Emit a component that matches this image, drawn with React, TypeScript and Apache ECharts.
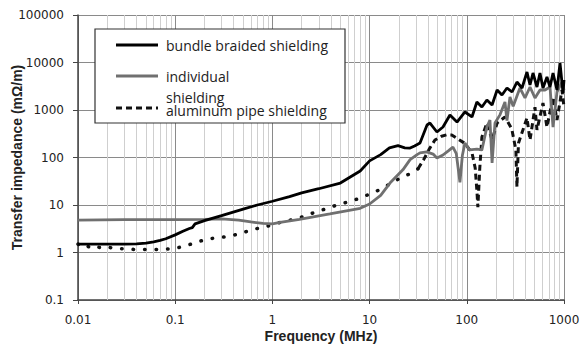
import React, { useEffect, useRef } from "react";
import * as echarts from "echarts";

// ---- data (frequency in MHz, transfer impedance in mΩ/m) ----
const xTickLabels = ["0.01", "0.1", "1", "10", "100", "1000"];
const yTickLabels = ["0.1", "1", "10", "100", "1000", "10000", "100000"];
const minorDecades = [0.01, 0.1, 1, 10, 100];
const minorMultipliers = [2, 3, 4, 5, 6, 7, 8, 9];

const bundleFreq = [0.01, 0.02, 0.03, 0.04, 0.05, 0.06, 0.07, 0.08, 0.1, 0.12, 0.14, 0.15, 0.16, 0.2, 0.3, 0.5, 0.7, 1, 1.5, 2, 3, 5, 8, 10, 13, 16, 19.6, 23, 26.1, 29, 33, 39, 41.8, 49.3, 56.9, 67.1, 79.3, 95.7, 113, 127, 143, 161, 182, 205, 230, 259, 292, 328, 370, 416, 447, 480, 527, 566, 608, 668, 718, 771, 847, 910, 977, 1000];
const bundleVal = [1.5, 1.5, 1.5, 1.52, 1.58, 1.68, 1.8, 1.95, 2.35, 2.8, 3.2, 3.35, 4.0, 4.7, 6.0, 8.2, 10, 12, 15, 18, 22, 29, 52, 85, 115, 160, 178, 160, 158, 175, 202, 483, 532, 344, 438, 785, 558, 908, 713, 1472, 1156, 1625, 1274, 2636, 2070, 2904, 2393, 3880, 2904, 6310, 3357, 6010, 3048, 6010, 2904, 4955, 3048, 6010, 2636, 9750, 2280, 4285];

const indivFreq = [0.01, 0.03, 0.1, 0.2, 0.3, 0.45, 0.6, 0.8, 1, 1.2, 1.9, 3.9, 8, 10, 13, 16.2, 22, 26.1, 30.8, 33, 38.7, 45, 49.3, 56.9, 65, 72, 78, 85, 90, 95.7, 107, 127, 143, 161, 173, 182, 195, 220, 247, 259, 278, 300, 352, 397, 447, 503, 566, 638, 718, 771, 847, 953, 1000];
const indivVal = [4.8, 4.9, 4.9, 5.0, 5.1, 4.8, 4.4, 4.1, 4.0, 4.3, 5.0, 6.5, 8.5, 10.5, 16, 29, 55, 90, 115, 125, 131, 118, 98, 113, 140, 166, 120, 30, 110, 202, 144, 150, 144, 438, 615, 77, 532, 800, 1472, 600, 1880, 1200, 2904, 1790, 3048, 1790, 2636, 2636, 3048, 438, 2393, 3880, 2636];

const aluLowFreq = [0.01, 0.011, 0.012, 0.013, 0.015, 0.017, 0.02, 0.025, 0.03, 0.04, 0.05, 0.06, 0.07, 0.08, 0.1, 0.13, 0.16, 0.21, 0.275, 0.366, 0.49, 0.65, 0.86, 1.1, 1.52, 2.02, 2.62, 3.48, 4.62, 6, 8, 11.9, 17, 21.5, 26, 31.5];
const aluLowVal = [1.5, 1.35, 1.45, 1.3, 1.4, 1.25, 1.3, 1.2, 1.2, 1.15, 1.15, 1.15, 1.17, 1.18, 1.22, 1.4, 1.6, 1.92, 2.04, 2.2, 2.6, 3.1, 3.5, 4.1, 4.8, 5.6, 6.8, 8.2, 10, 11.6, 14, 19.7, 29, 39, 45, 58];
const aluHighFreq = [31.5, 36, 41, 47, 55, 62, 70, 80, 95, 113, 122, 127, 130, 136, 143, 161, 182, 205, 247, 290, 320, 328, 340, 416, 447, 503, 527, 608, 668, 771, 847, 953, 1000];
const aluHighVal = [58, 90, 150, 233, 280, 300, 298, 250, 200, 126, 60, 20, 9, 60, 270, 532, 233, 532, 713, 400, 144, 24, 200, 680, 233, 1150, 380, 1400, 438, 1880, 615, 2636, 1156];

const zip = (a: number[], b: number[]) => a.map((x, i) => [x, b[i]]);

export default function App() {
  const ref = useRef<HTMLDivElement>(null);
  useEffect(() => {
    if (!ref.current) return;
    const chart = echarts.init(ref.current, null, { renderer: "svg" });
    const minorLines = minorDecades.flatMap((d) =>
      minorMultipliers.map((m) => ({ xAxis: +(m * d).toPrecision(3) }))
    );
    const tickFont = { fontFamily: "DejaVu Sans", fontSize: 12, color: "#222" };
    const legendFont = "14px 'Open Sans'";
    chart.setOption({
      animation: false,
      backgroundColor: "#fff",
      grid: { left: 78, right: 17, top: 15, bottom: 47, containLabel: false, outerBoundsMode: "none" },
      xAxis: {
        type: "log",
        logBase: 10,
        min: 0.01,
        max: 1000,
        splitNumber: 5,
        name: "Frequency (MHz)",
        nameLocation: "middle",
        nameGap: 29,
        nameMoveOverlap: false,
        nameTextStyle: { fontFamily: "Liberation Sans", fontWeight: "bold", fontSize: 14, color: "#222" },
        axisLine: { show: true, lineStyle: { color: "#444", width: 1.5 } },
        axisTick: { show: true, inside: false, length: 4, lineStyle: { color: "#444" } },
        axisLabel: {
          ...tickFont,
          margin: 14,
          formatter: (v: number) => xTickLabels[Math.round(Math.log10(v)) + 2],
        },
        splitLine: { show: true, lineStyle: { color: "#8a8a8a", width: 1 } },
        minorTick: { show: false },
      },
      yAxis: {
        type: "log",
        logBase: 10,
        min: 0.1,
        max: 100000,
        splitNumber: 6,
        name: "Transfer impedance (mΩ/m)",
        nameLocation: "middle",
        nameGap: 54,
        nameMoveOverlap: false,
        nameTextStyle: { fontFamily: "Liberation Sans", fontWeight: "bold", fontSize: 14, color: "#222" },
        axisLine: { show: true, lineStyle: { color: "#444", width: 1.5 } },
        axisTick: { show: true, inside: false, length: 5, lineStyle: { color: "#444" } },
        axisLabel: {
          ...tickFont,
          margin: 14,
          formatter: (v: number) => yTickLabels[Math.round(Math.log10(v)) + 1],
        },
        splitLine: { show: true, lineStyle: { color: "#8a8a8a", width: 1 } },
      },
      series: [
        {
          name: "minor grid",
          type: "line",
          data: [],
          silent: true,
          markLine: {
            z: 1,
            silent: true,
            symbol: ["none", "none"],
            label: { show: false },
            lineStyle: { color: "#cfcfcf", width: 1, type: "solid" },
            data: minorLines,
          },
        },
        {
          name: "aluminum pipe shielding",
          type: "line",
          z: 3,
          data: zip(aluLowFreq, aluLowVal),
          showSymbol: false,
          lineStyle: { color: "#111", width: 3.5, type: [0.5, 11], cap: "round" },
        },
        {
          name: "aluminum pipe shielding",
          type: "line",
          z: 3,
          data: zip(aluHighFreq, aluHighVal),
          showSymbol: false,
          lineStyle: { color: "#111", width: 3, type: [6, 4] },
        },
        {
          name: "individual shielding",
          type: "line",
          z: 4,
          data: zip(indivFreq, indivVal),
          showSymbol: false,
          lineStyle: { color: "#707070", width: 2.8 },
        },
        {
          name: "bundle braided shielding",
          type: "line",
          z: 5,
          data: zip(bundleFreq, bundleVal),
          showSymbol: false,
          lineStyle: { color: "#000", width: 2.8 },
        },
      ],
      graphic: [
        { type: "rect", z: 20, shape: { x: 95, y: 29, width: 250, height: 94 }, style: { fill: "#fff", stroke: "#333", lineWidth: 1.2 } },
        { type: "line", z: 21, shape: { x1: 116, y1: 45, x2: 158, y2: 45 }, style: { stroke: "#000", lineWidth: 3 } },
        { type: "line", z: 21, shape: { x1: 116, y1: 76, x2: 158, y2: 76 }, style: { stroke: "#707070", lineWidth: 3 } },
        { type: "line", z: 21, shape: { x1: 116, y1: 108, x2: 158, y2: 108 }, style: { stroke: "#111", lineWidth: 3, lineDash: [6, 4] } },
        { type: "text", z: 21, x: 166, y: 45, style: { text: "bundle braided shielding", fill: "#222", font: legendFont, verticalAlign: "middle" } },
        { type: "text", z: 21, x: 166, y: 76, style: { text: "individual", fill: "#222", font: legendFont, verticalAlign: "middle" } },
        { type: "text", z: 21, x: 166, y: 97, style: { text: "shielding", fill: "#222", font: legendFont, verticalAlign: "middle" } },
        { type: "text", z: 21, x: 166, y: 110, style: { text: "aluminum pipe shielding", fill: "#222", font: legendFont, verticalAlign: "middle" } },
      ],
    });
    return () => chart.dispose();
  }, []);
  return <div ref={ref} style={{ position: "fixed", left: 0, top: 0, width: 581, height: 347 }} />;
}
